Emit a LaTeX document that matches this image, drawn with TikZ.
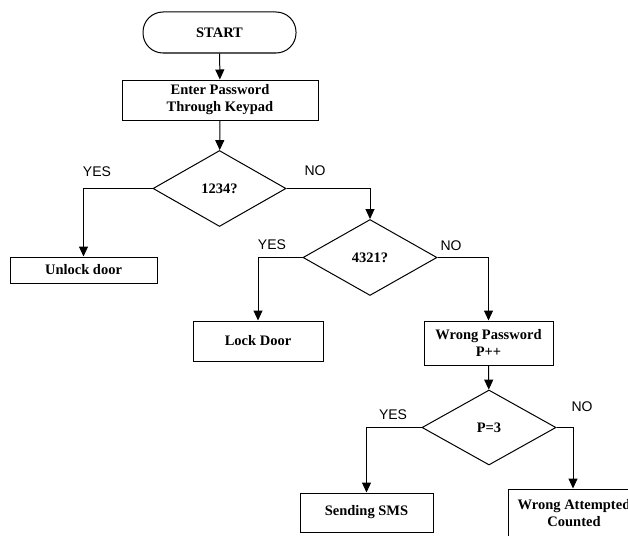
\documentclass[tikz,border=0pt]{standalone}
\usepackage{fontspec}
\setmainfont{Liberation Serif}
\newfontfamily\answerfont{Liberation Sans}
\usetikzlibrary{shapes.geometric,arrows.meta}
\begin{document}
\begin{tikzpicture}[x=1pt,y=-1pt,line width=1pt,>={Triangle[width=9pt,length=10pt]},
  font=\fontsize{14.5}{17}\selectfont\bfseries,
  terminal/.style={draw,rectangle,rounded corners=20pt,inner sep=0pt,
    minimum width=153pt,minimum height=41pt},
  procbox/.style={draw,rectangle,align=center,inner sep=0pt},
  decide/.style={draw,diamond,inner sep=0pt,minimum width=134pt,minimum height=76pt},
  answer/.style={font=\fontsize{14}{16}\selectfont\answerfont}]
\useasboundingbox (0,0) rectangle (628,535);
\clip (0,0) rectangle (628,535);
% boxes
\node[terminal] (start) at (219.5,32.5) {START};
\node[procbox,minimum width=196pt,minimum height=40pt] (enter) at (220,100)
  {Enter Password\\Through Keypad};
\node[decide,minimum width=133pt] (d1) at (219.5,188.5) {1234?};
\node[procbox,minimum width=147pt,minimum height=26pt] (unlock) at (83.5,270) {Unlock door};
\node[decide] (d2) at (370,257.5) {4321?};
\node[procbox,minimum width=130pt,minimum height=40pt] (lock) at (258,341) {Lock Door};
\node[procbox,minimum width=129pt,minimum height=44pt] (wrong) at (488.5,343)
  {Wrong Password\\P++};
\node[decide,minimum height=75pt] (d3) at (489,427.5) {P=3};
\node[procbox,minimum width=133pt,minimum height=39pt] (sms) at (366.5,512.5) {Sending SMS};
\node[procbox,minimum width=132pt,minimum height=48pt] (count) at (574,513)
  {Wrong Attempted\\Counted};
% answers
\node[answer] (y1) at (97,172) {YES};
\node[answer] (n1) at (315,171) {NO};
\node[answer] (y2) at (272,245) {YES};
\node[answer] (n2) at (451,246) {NO};
\node[answer] (y3) at (393,415) {YES};
\node[answer] (n3) at (582,407) {NO};
% flow
\draw[->] (start) -- (enter);
\draw[->] (enter) -- (d1);
\draw[->] (d1.west) -| (unlock.north);
\draw[->] (d1.east) -| (d2.north);
\draw[->] (d2.west) -| (lock.north);
\draw[->] (d2.east) -| (wrong.north);
\draw[->] (wrong) -- (d3);
\draw[->] (d3.west) -| (sms.north);
\draw[->] (d3.east) -| ([xshift=-1pt]count.north);
\end{tikzpicture}
\end{document}
